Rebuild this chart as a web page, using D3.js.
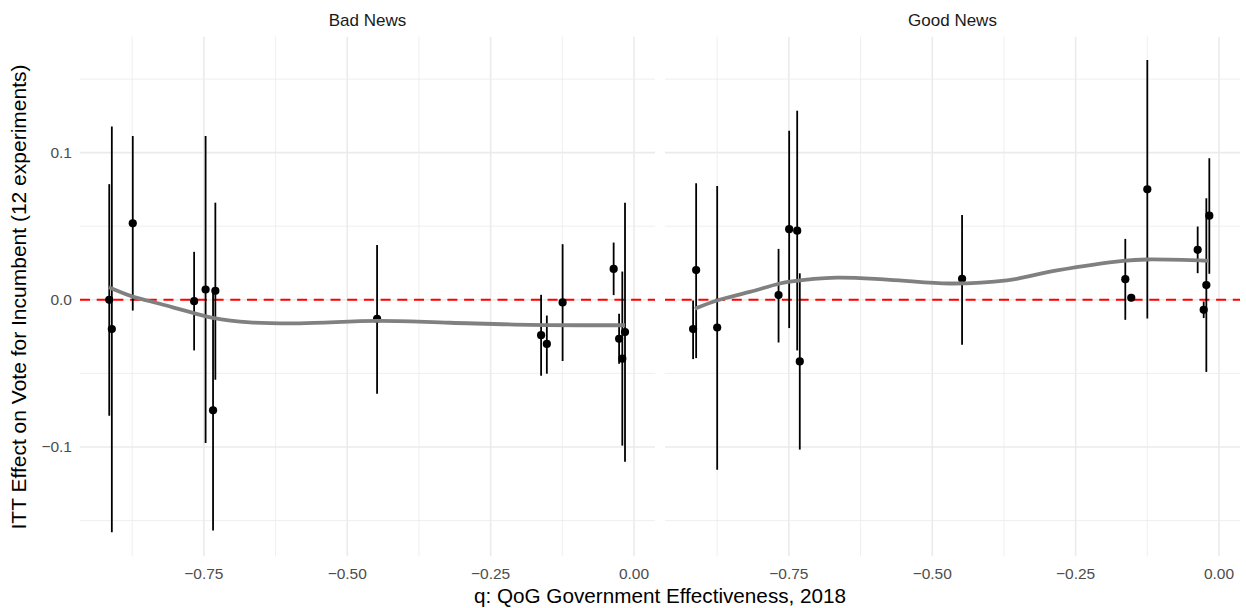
<!DOCTYPE html>
<html>
<head>
<meta charset="utf-8">
<script src="https://cdn.jsdelivr.net/npm/d3@7"></script>
<style>
    body { margin: 0; background: #fff; }
    svg { display: block; font-family: "Liberation Sans", Arial, sans-serif; }
</style>
</head>
<body>
<svg id="chart" width="1246" height="608"></svg>
<script>
// panel titles
const panels = ["Bad News", "Good News"];

// Bad News: quality of government, ITT estimate, 95% interval
const badX = [-0.915, -0.9105, -0.874, -0.767, -0.747, -0.734, -0.730, -0.448, -0.162, -0.152, -0.1245, -0.0355, -0.026, -0.0204, -0.0157];
const badEst = [0.000, -0.0199, 0.052, -0.0009, 0.007, -0.0751, 0.0061, -0.0129, -0.024, -0.030, -0.0018, 0.021, -0.0265, -0.040, -0.0219];
const badLo = [-0.0788, -0.158, -0.0073, -0.0344, -0.0973, -0.1567, -0.0543, -0.0638, -0.0516, -0.0502, -0.0416, 0.0032, -0.0435, -0.0991, -0.110];
const badHi = [0.0786, 0.1177, 0.1113, 0.0326, 0.1113, 0.0056, 0.066, 0.0373, 0.0034, -0.0107, 0.0378, 0.0389, -0.0095, 0.0192, 0.0659];

// Good News
const goodX = [-0.917, -0.9117, -0.875, -0.768, -0.7495, -0.7355, -0.731, -0.448, -0.1634, -0.153, -0.125, -0.0372, -0.0267, -0.0221, -0.0169];
const goodEst = [-0.0199, 0.0202, -0.0188, 0.0032, 0.048, 0.047, -0.0419, 0.0143, 0.014, 0.0014, 0.0751, 0.034, -0.0068, 0.010, 0.0572];
const goodLo = [-0.0403, -0.0396, -0.1154, -0.029, -0.0192, -0.0344, -0.1018, -0.0305, -0.0136, -0.001, -0.0127, 0.0181, -0.0124, -0.049, 0.0177];
const goodHi = [-0.0005, 0.0792, 0.0774, 0.0346, 0.1149, 0.1285, 0.018, 0.0577, 0.0414, 0.004, 0.163, 0.0498, -0.0011, 0.069, 0.0962];

// smoother
const badSmoothX = [-0.9157, -0.8739, -0.8268, -0.7675, -0.7344, -0.6698, -0.5826, -0.4483, -0.3209, -0.1814, -0.0157];
const badSmoothY = [0.0086, 0.0022, -0.0027, -0.0090, -0.0122, -0.0153, -0.0160, -0.0143, -0.0156, -0.0170, -0.0173];
const goodSmoothX = [-0.914, -0.8756, -0.818, -0.7676, -0.7483, -0.6663, -0.5739, -0.4692, -0.3698, -0.2826, -0.1675, -0.1256, -0.0174];
const goodSmoothY = [-0.0061, -0.0005, 0.0054, 0.0109, 0.0124, 0.0151, 0.0136, 0.0111, 0.0132, 0.0200, 0.0265, 0.0274, 0.0265];

const xTicks = [-0.75, -0.5, -0.25, 0];
const xMinor = [-0.875, -0.625, -0.375, -0.125];
const xTickLabels = ["\u22120.75", "\u22120.50", "\u22120.25", "0.00"];
const yTicks = [-0.1, 0, 0.1];
const yMinor = [-0.15, -0.05, 0.05, 0.15];
const yTickLabels = ["\u22120.1", "0.0", "0.1"];

const xLim = [-0.966, 0.0366];
const yLim = [-0.1743, 0.1788];

const series = [
    {x: badX, est: badEst, lo: badLo, hi: badHi, sx: badSmoothX, sy: badSmoothY},
    {x: goodX, est: goodEst, lo: goodLo, hi: goodHi, sx: goodSmoothX, sy: goodSmoothY}
];

const svg = d3.select("#chart");
const plotTop = 36.7, plotBottom = 556.3;
const panelLeft = [80, 665], panelW = 575;

const y = d3.scaleLinear().domain(yLim).range([plotBottom, plotTop]);

panels.forEach((name, p) => {
    const s = series[p];
    const x = d3.scaleLinear().domain(xLim).range([panelLeft[p], panelLeft[p] + panelW]);
    const g = svg.append("g");

    // grid
    g.selectAll(".ymin").data(yMinor).join("line")
        .attr("x1", x.range()[0]).attr("x2", x.range()[1])
        .attr("y1", d => y(d)).attr("y2", d => y(d))
        .attr("stroke", "#ebebeb").attr("stroke-width", 0.8);
    g.selectAll(".xmin").data(xMinor).join("line")
        .attr("y1", plotTop).attr("y2", plotBottom)
        .attr("x1", d => x(d)).attr("x2", d => x(d))
        .attr("stroke", "#ebebeb").attr("stroke-width", 0.8);
    g.selectAll(".ymaj").data(yTicks).join("line")
        .attr("x1", x.range()[0]).attr("x2", x.range()[1])
        .attr("y1", d => y(d)).attr("y2", d => y(d))
        .attr("stroke", "#ebebeb").attr("stroke-width", 1.6);
    g.selectAll(".xmaj").data(xTicks).join("line")
        .attr("y1", plotTop).attr("y2", plotBottom)
        .attr("x1", d => x(d)).attr("x2", d => x(d))
        .attr("stroke", "#ebebeb").attr("stroke-width", 1.6);

    // zero line
    g.append("line")
        .attr("x1", x.range()[0]).attr("x2", x.range()[1])
        .attr("y1", y(0)).attr("y2", y(0))
        .attr("stroke", "#ff0000").attr("stroke-width", 2)
        .attr("stroke-dasharray", "10,6.7");

    const idx = d3.range(s.x.length);

    g.selectAll(".bar").data(idx).join("line")
        .attr("x1", i => x(s.x[i])).attr("x2", i => x(s.x[i]))
        .attr("y1", i => y(s.lo[i])).attr("y2", i => y(s.hi[i]))
        .attr("stroke", "#000").attr("stroke-width", 1.8);

    g.selectAll(".pt").data(idx).join("circle")
        .attr("cx", i => x(s.x[i])).attr("cy", i => y(s.est[i]))
        .attr("r", 4.1).attr("fill", "#000");

    const line = d3.line()
        .x(i => x(s.sx[i])).y(i => y(s.sy[i]))
        .curve(d3.curveCatmullRom.alpha(0.5));
    g.append("path")
        .attr("d", line(d3.range(s.sx.length)))
        .attr("fill", "none").attr("stroke", "#808080").attr("stroke-width", 3.8);

    // x tick labels
    g.selectAll(".xt").data(xTicks).join("text")
        .attr("x", d => x(d)).attr("y", 573)
        .attr("text-anchor", "middle").attr("dominant-baseline", "central")
        .attr("font-size", 15.5).attr("fill", "#4d4d4d")
        .text((d, i) => xTickLabels[i]);

    // strip
    g.append("text")
        .attr("x", panelLeft[p] + panelW / 2).attr("y", 20)
        .attr("text-anchor", "middle").attr("dominant-baseline", "central")
        .attr("font-size", 17).attr("fill", "#1a1a1a")
        .text(name);
});

svg.selectAll(".yt").data(yTicks).join("text")
    .attr("x", 72).attr("y", d => y(d))
    .attr("text-anchor", "end").attr("dominant-baseline", "central")
    .attr("font-size", 15.5).attr("fill", "#4d4d4d")
    .text((d, i) => yTickLabels[i]);

svg.append("text")
    .attr("transform", "translate(18,297) rotate(-90)")
    .attr("text-anchor", "middle").attr("dominant-baseline", "central")
    .attr("font-size", 21).attr("fill", "#000")
    .text("ITT Effect on Vote for Incumbent (12 experiments)");

svg.append("text")
    .attr("x", 660).attr("y", 595)
    .attr("text-anchor", "middle").attr("dominant-baseline", "central")
    .attr("font-size", 20.7).attr("fill", "#000")
    .text("q: QoG Government Effectiveness, 2018");
</script>
</body>
</html>
